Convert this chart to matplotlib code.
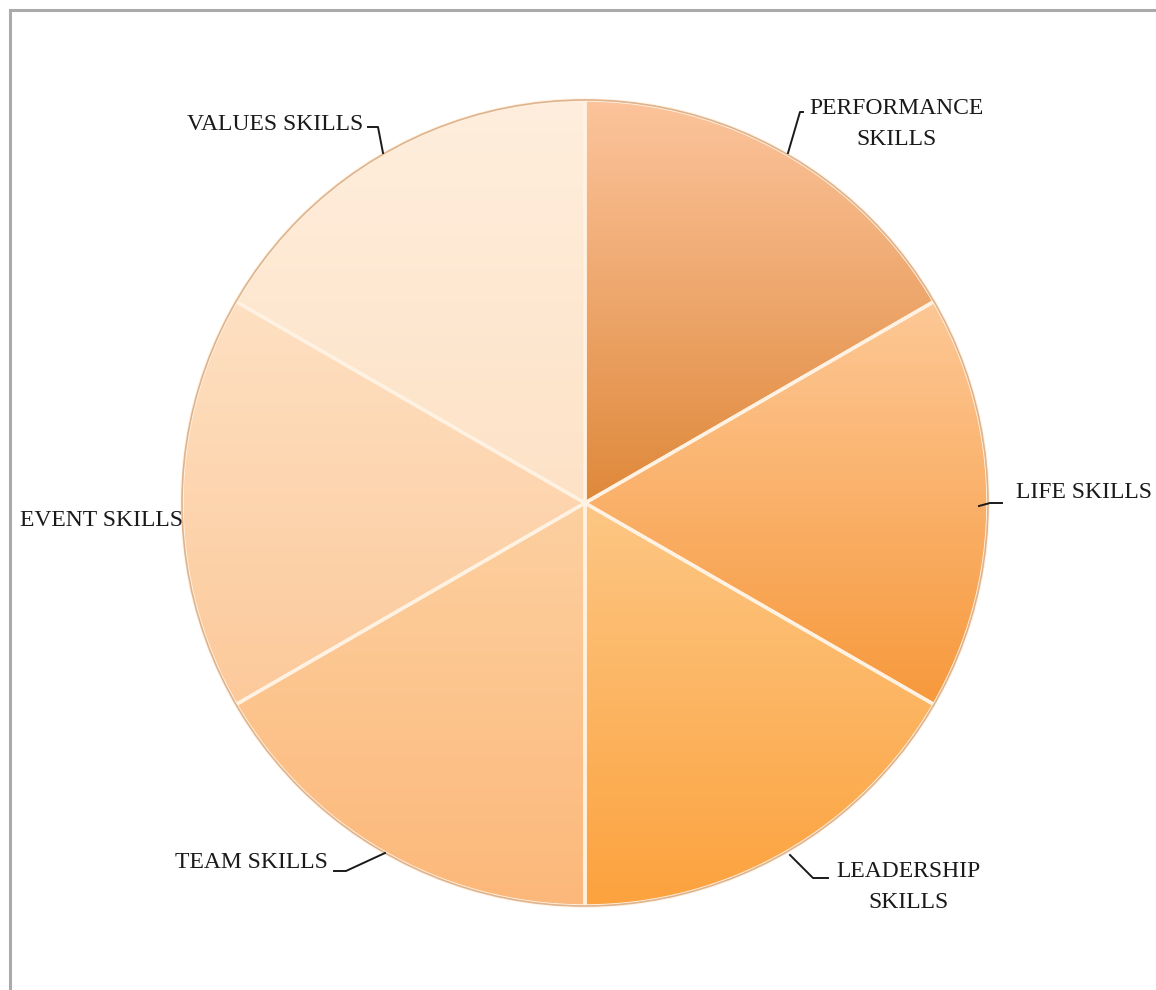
import numpy as np
import matplotlib.pyplot as plt
from matplotlib.colors import LinearSegmentedColormap
from matplotlib.patches import Rectangle

labels = ["PERFORMANCE\nSKILLS", "LIFE SKILLS", "LEADERSHIP\nSKILLS",
          "TEAM SKILLS", "EVENT SKILLS", "VALUES SKILLS"]
values = [1, 1, 1, 1, 1, 1]
# top / bottom shade of each slice
tops = ["#fcc49c", "#fdc896", "#fdc784", "#fdd0a0", "#fee0c2", "#ffeedd"]
bottoms = ["#df883a", "#f7993c", "#fca23e", "#fcb87a", "#fcc99a", "#fde2c6"]

W, H = 1156, 990
fig = plt.figure(figsize=(W / 100, H / 100), dpi=100)
ax = fig.add_axes([0, 0, 1, 1])

# frame line at top/left
fig.patches.append(Rectangle((9.5 / W, -0.1), 1.2, 1.1 - 10.5 / H,
                             transform=fig.transFigure, fill=False,
                             edgecolor="#aaaaaa", lw=2.2))

cx, cy, r = 585, H - 503, 403
wedges, _ = ax.pie(values, startangle=90, counterclock=False,
                   center=(cx, cy), radius=r, frame=True,
                   wedgeprops=dict(edgecolor="#fff2e2", linewidth=2.5))
ax.set_xlim(0, W)
ax.set_ylim(0, H)
ax.set_aspect("equal")
ax.axis("off")

grad = np.linspace(0, 1, 256).reshape(-1, 1)
for w, t, b in zip(wedges, tops, bottoms):
    path = w.get_path().transformed(w.get_patch_transform())
    x0, y0 = path.vertices.min(axis=0)
    x1, y1 = path.vertices.max(axis=0)
    cmap = LinearSegmentedColormap.from_list("g", [t, b])
    im = ax.imshow(grad, cmap=cmap, extent=(x0, x1, y0, y1), aspect="auto",
                   origin="upper", zorder=1, interpolation="bilinear")
    im.set_clip_path(w)
    w.set_facecolor("none")
    w.set_zorder(2)
ax.set_xlim(0, W)
ax.set_ylim(0, H)

# outer rim
circ = plt.Circle((cx, cy), r, fill=False, edgecolor="#c98a55", lw=1.2,
                  alpha=0.6, zorder=3)
ax.add_patch(circ)

# labels with leader lines (pixel coords from top)
label_pos = [(896, 124), (1084, 493), (908, 887),
             (251, 862), (101, 520), (275, 125)]
leaders = [
    [(788, 153), (800, 112), (803, 112)],
    [(979, 506), (990, 503), (1002, 503)],
    [(790, 855), (813, 878), (828, 878)],
    [(385, 853), (346, 871), (334, 871)],
    [(185, 522), (185, 522)],
    [(383, 153), (378, 127), (368, 127)],
]
for (lx, ly), txt, seg in zip(label_pos, labels, leaders):
    ax.text(lx, H - ly, txt, ha="center", va="center", fontsize=17,
            family="Liberation Serif", color="#1a1a1a", linespacing=1.65,
            zorder=5)
    xs = [p[0] for p in seg]
    ys = [H - p[1] for p in seg]
    ax.plot(xs, ys, color="#1a1a1a", lw=1.4, zorder=4)

fig.savefig("out.png", dpi=100)
